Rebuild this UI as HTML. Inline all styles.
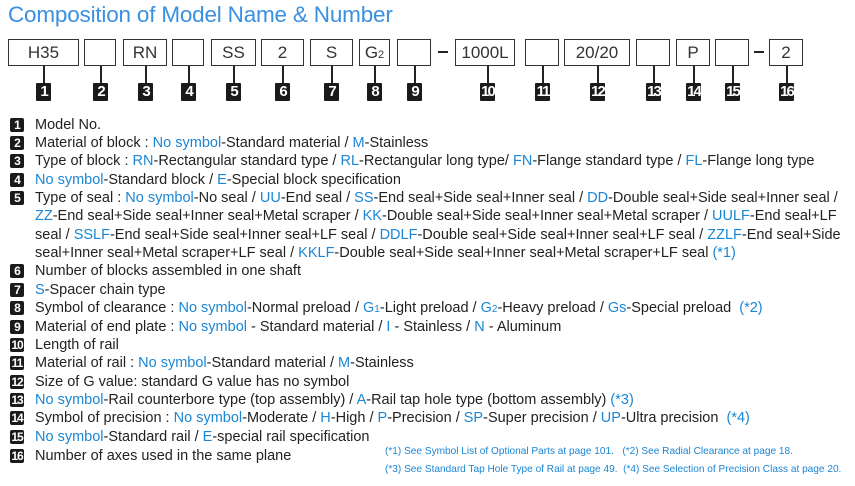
<!DOCTYPE html>
<html><head><meta charset="utf-8"><style>
body{margin:0;width:855px;height:486px;background:#fff;position:relative;overflow:hidden;font-family:"Liberation Sans",sans-serif;color:#222}
.t{position:absolute;left:8px;top:2px;font-size:22.5px;color:#3a90e0;letter-spacing:-0.2px}
.b{position:absolute;top:39px;height:27px;border:1px solid #333;box-sizing:border-box;font-size:17px;text-align:center;line-height:26px;color:#333}
.s{position:absolute;top:66px;width:1.5px;height:17px;background:#222}
.n{position:absolute;top:83px;width:15px;height:18px;background:#1a1a1a;color:#fff;font-size:15px;line-height:18px;text-align:center;font-weight:bold;letter-spacing:-2px;border-radius:1px}
.d{position:absolute;top:51px;width:10px;height:1.5px;background:#222}
.l{position:absolute;left:35px;font-size:14.5px;white-space:nowrap;line-height:18px}
.k{position:absolute;left:10px;width:14px;height:14px;background:#1a1a1a;color:#fff;font-size:12px;line-height:14px;text-align:center;font-weight:bold;border-radius:2px;letter-spacing:-1px}
.c{color:#1a86d4}
.f{position:absolute;left:385px;font-size:10.1px;color:#1a86d4;white-space:nowrap}
</style></head><body>
<div class="t">Composition of Model Name &amp; Number</div>
<div class="b" style="left:8px;width:71px">H35</div>
<div class="b" style="left:84px;width:32px"></div>
<div class="b" style="left:123px;width:44px">RN</div>
<div class="b" style="left:172px;width:32px"></div>
<div class="b" style="left:211px;width:45px">SS</div>
<div class="b" style="left:261px;width:43px">2</div>
<div class="b" style="left:310px;width:43px">S</div>
<div class="b" style="left:359px;width:31px">G<span style="font-size:11px">2</span></div>
<div class="b" style="left:397px;width:34px"></div>
<div class="d" style="left:438px"></div>
<div class="b" style="left:455px;width:60px">1000L</div>
<div class="b" style="left:525px;width:34px"></div>
<div class="b" style="left:564px;width:66px">20/20</div>
<div class="b" style="left:636px;width:34px"></div>
<div class="b" style="left:676px;width:34px">P</div>
<div class="b" style="left:715px;width:34px"></div>
<div class="d" style="left:754px"></div>
<div class="b" style="left:769px;width:34px">2</div>
<div class="s" style="left:43px"></div><div class="n" style="left:36px">1</div>
<div class="s" style="left:100px"></div><div class="n" style="left:93px">2</div>
<div class="s" style="left:145px"></div><div class="n" style="left:138px">3</div>
<div class="s" style="left:188px"></div><div class="n" style="left:181px">4</div>
<div class="s" style="left:233px"></div><div class="n" style="left:226px">5</div>
<div class="s" style="left:282px"></div><div class="n" style="left:275px">6</div>
<div class="s" style="left:331px"></div><div class="n" style="left:324px">7</div>
<div class="s" style="left:374px"></div><div class="n" style="left:367px">8</div>
<div class="s" style="left:414px"></div><div class="n" style="left:407px">9</div>
<div class="s" style="left:487px"></div><div class="n" style="left:480px">10</div>
<div class="s" style="left:542px"></div><div class="n" style="left:535px">11</div>
<div class="s" style="left:597px"></div><div class="n" style="left:590px">12</div>
<div class="s" style="left:653px"></div><div class="n" style="left:646px">13</div>
<div class="s" style="left:693px"></div><div class="n" style="left:686px">14</div>
<div class="s" style="left:732px"></div><div class="n" style="left:725px">15</div>
<div class="s" style="left:786px"></div><div class="n" style="left:779px">16</div>

<div class="k" style="top:118px">1</div><div class="l" style="top:116px">Model No.</div>
<div class="k" style="top:136px">2</div><div class="l" style="top:134px">Material of block : <span class="c">No symbol</span>-Standard material / <span class="c">M</span>-Stainless</div>
<div class="k" style="top:154px">3</div><div class="l" style="top:152px">Type of block : <span class="c">RN</span>-Rectangular standard type / <span class="c">RL</span>-Rectangular long type/ <span class="c">FN</span>-Flange standard type / <span class="c">FL</span>-Flange long type</div>
<div class="k" style="top:173px">4</div><div class="l" style="top:171px"><span class="c">No symbol</span>-Standard block / <span class="c">E</span>-Special block specification</div>
<div class="k" style="top:191px">5</div><div class="l" style="top:189px">Type of seal : <span class="c">No symbol</span>-No seal / <span class="c">UU</span>-End seal / <span class="c">SS</span>-End seal+Side seal+Inner seal / <span class="c">DD</span>-Double seal+Side seal+Inner seal /</div>
<div class="l" style="top:207px"><span class="c">ZZ</span>-End seal+Side seal+Inner seal+Metal scraper / <span class="c">KK</span>-Double seal+Side seal+Inner seal+Metal scraper / <span class="c">UULF</span>-End seal+LF</div>
<div class="l" style="top:226px">seal / <span class="c">SSLF</span>-End seal+Side seal+Inner seal+LF seal / <span class="c">DDLF</span>-Double seal+Side seal+Inner seal+LF seal / <span class="c">ZZLF</span>-End seal+Side</div>
<div class="l" style="top:244px">seal+Inner seal+Metal scraper+LF seal / <span class="c">KKLF</span>-Double seal+Side seal+Inner seal+Metal scraper+LF seal <span class="c">(*1)</span></div>
<div class="k" style="top:264px">6</div><div class="l" style="top:262px">Number of blocks assembled in one shaft</div>
<div class="k" style="top:283px">7</div><div class="l" style="top:281px"><span class="c">S</span>-Spacer chain type</div>
<div class="k" style="top:301px">8</div><div class="l" style="top:299px">Symbol of clearance : <span class="c">No symbol</span>-Normal preload / <span class="c">G<span style="font-size:10px">1</span></span>-Light preload / <span class="c">G<span style="font-size:10px">2</span></span>-Heavy preload / <span class="c">Gs</span>-Special preload &nbsp;<span class="c">(*2)</span></div>
<div class="k" style="top:320px">9</div><div class="l" style="top:318px">Material of end plate : <span class="c">No symbol</span> - Standard material / <span class="c">I</span> - Stainless / <span class="c">N</span> - Aluminum</div>
<div class="k" style="top:338px">10</div><div class="l" style="top:336px">Length of rail</div>
<div class="k" style="top:356px">11</div><div class="l" style="top:354px">Material of rail : <span class="c">No symbol</span>-Standard material / <span class="c">M</span>-Stainless</div>
<div class="k" style="top:375px">12</div><div class="l" style="top:373px">Size of G value: standard G value has no symbol</div>
<div class="k" style="top:393px">13</div><div class="l" style="top:391px"><span class="c">No symbol</span>-Rail counterbore type (top assembly) / <span class="c">A</span>-Rail tap hole type (bottom assembly) <span class="c">(*3)</span></div>
<div class="k" style="top:411px">14</div><div class="l" style="top:409px">Symbol of precision : <span class="c">No symbol</span>-Moderate / <span class="c">H</span>-High / <span class="c">P</span>-Precision / <span class="c">SP</span>-Super precision / <span class="c">UP</span>-Ultra precision &nbsp;<span class="c">(*4)</span></div>
<div class="k" style="top:430px">15</div><div class="l" style="top:428px"><span class="c">No symbol</span>-Standard rail / <span class="c">E</span>-special rail specification</div>
<div class="k" style="top:449px">16</div><div class="l" style="top:447px">Number of axes used in the same plane</div>
<div class="f" style="top:446px">(*1) See Symbol List of Optional Parts at page 101. &nbsp;&nbsp;(*2) See Radial Clearance at page 18.</div>
<div class="f" style="top:464px">(*3) See Standard Tap Hole Type of Rail at page 49. &nbsp;(*4) See Selection of Precision Class at page 20.</div>
</body></html>
